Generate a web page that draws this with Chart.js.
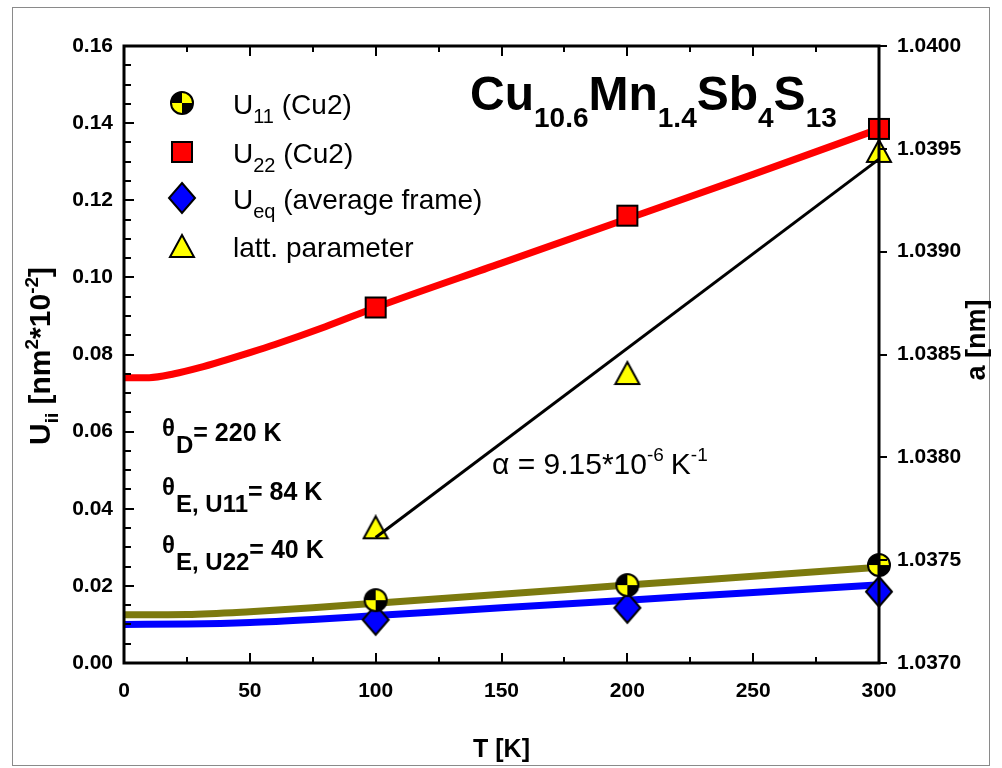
<!DOCTYPE html>
<html>
<head>
<meta charset="utf-8">
<script src="https://cdn.jsdelivr.net/npm/chart.js@4/dist/chart.umd.min.js"></script>
<style>
  html, body { margin: 0; padding: 0; background: #ffffff; }
  canvas { display: block; }
</style>
</head>
<body>
<canvas id="c" width="1002" height="768"></canvas>
<script>
const FONT = "'Liberation Sans', Arial, Helvetica, sans-serif";

// Measured temperatures and refined values
const pointT = [100, 200, 300];
const u11Points = [0.0163, 0.0202, 0.0254];
const u22Points = [0.0922, 0.1160, 0.1385];
const ueqPoints = [0.0112, 0.0143, 0.0185];
const latticePoints = [1.03766, 1.03841, 1.03949];

// Einstein / Debye model curves
const u22CurveT = [0, 10, 20, 30, 40, 50, 60, 80, 100, 150, 200, 250, 300];
const u22Curve  = [0.0740, 0.0740, 0.0750, 0.0766, 0.0785, 0.0805, 0.0826, 0.0872, 0.0922, 0.1037, 0.1152, 0.1267, 0.1385];
const lowCurveT = [0, 25, 50, 75, 100, 150, 200, 250, 300];
const u11Curve  = [0.0125, 0.0126, 0.0133, 0.0143, 0.0155, 0.0178, 0.0202, 0.0225, 0.0248];
const ueqCurve  = [0.0100, 0.0101, 0.0105, 0.0113, 0.0123, 0.0143, 0.0163, 0.0183, 0.0203];

// Linear fit of the lattice parameter
const fitT = [100, 300];
const fitA = [1.03761, 1.03945];

// Axis ticks
const xTickValues = [0, 50, 100, 150, 200, 250, 300];
const xTickLabels = ['0', '50', '100', '150', '200', '250', '300'];
const uTickValues = [0, 0.02, 0.04, 0.06, 0.08, 0.10, 0.12, 0.14, 0.16];
const uTickLabels = ['0.00', '0.02', '0.04', '0.06', '0.08', '0.10', '0.12', '0.14', '0.16'];
const aTickValues = [1.0370, 1.0375, 1.0380, 1.0385, 1.0390, 1.0395, 1.0400];
const aTickLabels = ['1.0370', '1.0375', '1.0380', '1.0385', '1.0390', '1.0395', '1.0400'];

const toXY = (xs, ys) => xs.map((x, i) => ({ x: x, y: ys[i] }));

// ---- marker sprites ----
function sprite(w, h, paint) {
  const c = document.createElement('canvas');
  c.width = w; c.height = h;
  paint(c.getContext('2d'), w, h);
  return c;
}
const quadCircle = sprite(26, 26, (g) => {
  const cx = 13, cy = 13, r = 11;
  g.fillStyle = '#000';
  g.beginPath(); g.arc(cx, cy, r, 0, Math.PI * 2); g.fill();
  g.fillStyle = '#ffff00';
  g.beginPath(); g.moveTo(cx, cy); g.arc(cx, cy, r, -Math.PI / 2, 0); g.closePath(); g.fill();
  g.beginPath(); g.moveTo(cx, cy); g.arc(cx, cy, r, Math.PI / 2, Math.PI); g.closePath(); g.fill();
  g.strokeStyle = '#000'; g.lineWidth = 2;
  g.beginPath(); g.arc(cx, cy, r, 0, Math.PI * 2); g.stroke();
});
const redSquare = sprite(24, 24, (g) => {
  g.fillStyle = '#ff0000'; g.fillRect(2, 2, 20, 20);
  g.strokeStyle = '#000'; g.lineWidth = 2; g.strokeRect(2, 2, 20, 20);
});
const blueDiamond = sprite(30, 34, (g) => {
  g.fillStyle = '#0000ff';
  g.beginPath(); g.moveTo(15, 2); g.lineTo(28, 17); g.lineTo(15, 32); g.lineTo(2, 17); g.closePath();
  g.fill();
  g.strokeStyle = '#000'; g.lineWidth = 2; g.lineJoin = 'miter'; g.stroke();
});
const yellowTriangle = sprite(28, 26, (g) => {
  g.fillStyle = '#ffff00';
  g.beginPath(); g.moveTo(14, 2); g.lineTo(26, 24); g.lineTo(2, 24); g.closePath();
  g.fill();
  g.strokeStyle = '#000'; g.lineWidth = 2; g.stroke();
});

// ---- rich text (sub/superscripts) ----
function drawRich(ctx, x, y, parts) {
  let cx = x;
  for (const p of parts) {
    ctx.font = (p.bold ? 'bold ' : '') + p.size + 'px ' + FONT;
    ctx.fillText(p.t, cx, y + (p.dy || 0));
    cx += ctx.measureText(p.t).width + (p.gap || 0);
  }
  return cx - x;
}
function richWidth(ctx, parts) {
  let w = 0;
  for (const p of parts) {
    ctx.font = (p.bold ? 'bold ' : '') + p.size + 'px ' + FONT;
    w += ctx.measureText(p.t).width + (p.gap || 0);
  }
  return w;
}

const legendRows = [
  { icon: quadCircle, y: 103, parts: [{ t: 'U', size: 28 }, { t: '11', size: 20, dy: 9 }, { t: ' (Cu2)', size: 28 }] },
  { icon: redSquare, y: 152, parts: [{ t: 'U', size: 28 }, { t: '22', size: 20, dy: 9 }, { t: ' (Cu2)', size: 28 }] },
  { icon: blueDiamond, y: 198, parts: [{ t: 'U', size: 28 }, { t: 'eq', size: 20, dy: 9 }, { t: ' (average frame)', size: 28 }] },
  { icon: yellowTriangle, y: 246, parts: [{ t: 'latt. parameter', size: 28 }] }
];

const framePlugin = {
  id: 'frame',
  afterDatasetsDraw(chart) {
    const ctx = chart.ctx;
    const { left, right, top, bottom } = chart.chartArea;
    const xs = chart.scales.x, ys = chart.scales.y, as = chart.scales.y2;
    ctx.save();
    ctx.strokeStyle = '#000';
    ctx.lineCap = 'butt';
    // tick marks
    ctx.lineWidth = 2;
    ctx.beginPath();
    for (let v = 0; v <= 300; v += 25) {
      const px = Math.round(xs.getPixelForValue(v));
      const len = v % 50 === 0 ? 10 : 6;
      ctx.moveTo(px, bottom); ctx.lineTo(px, bottom - len);
      ctx.moveTo(px, top); ctx.lineTo(px, top + len);
    }
    for (let k = 0; k <= 32; k++) {
      const py = Math.round(ys.getPixelForValue(k * 0.005));
      const len = k % 4 === 0 ? 10 : 7;
      ctx.moveTo(left, py); ctx.lineTo(left + len, py);
    }
    for (const v of aTickValues) {
      const py = Math.round(as.getPixelForValue(v));
      ctx.moveTo(right, py); ctx.lineTo(right + 8, py);
    }
    ctx.stroke();
    // axis frame
    ctx.lineWidth = 3;
    ctx.strokeRect(left, top, right - left, bottom - top);
    ctx.restore();
  },
  afterDraw(chart) {
    const ctx = chart.ctx;
    const { left, right } = chart.chartArea;
    ctx.save();
    // outer panel border
    ctx.strokeStyle = '#8a8a8a';
    ctx.lineWidth = 1;
    ctx.strokeRect(12.5, 7.5, 977, 758);

    ctx.fillStyle = '#000';
    ctx.textBaseline = 'alphabetic';
    ctx.textAlign = 'left';

    // legend
    for (const row of legendRows) {
      ctx.drawImage(row.icon, Math.round(182 - row.icon.width / 2), Math.round(row.y - row.icon.height / 2));
      drawRich(ctx, 233, row.y + 11, row.parts);
    }

    // formula
    drawRich(ctx, 470, 110, [
      { t: 'Cu', size: 48, bold: true }, { t: '10.6', size: 28, bold: true, dy: 17 },
      { t: 'Mn', size: 48, bold: true }, { t: '1.4', size: 28, bold: true, dy: 17 },
      { t: 'Sb', size: 48, bold: true }, { t: '4', size: 28, bold: true, dy: 17 },
      { t: 'S', size: 48, bold: true }, { t: '13', size: 28, bold: true, dy: 17 }
    ]);

    // characteristic temperatures
    const thetaRows = [
      { y: 441, sub: 'D', txt: '= 220 K' },
      { y: 500, sub: 'E, U11', txt: '= 84 K' },
      { y: 558, sub: 'E, U22', txt: '= 40 K' }
    ];
    for (const r of thetaRows) {
      drawRich(ctx, 162, r.y, [
        { t: '\u03B8', size: 24, bold: true, dy: -5, gap: 1 },
        { t: r.sub, size: 24, bold: true, dy: 12 },
        { t: r.txt, size: 25, bold: true }
      ]);
    }

    // thermal expansion coefficient
    drawRich(ctx, 492, 474, [
      { t: '\u03B1 = 9.15*10', size: 30 }, { t: '-6', size: 19, dy: -13, gap: 7 },
      { t: 'K', size: 30 }, { t: '-1', size: 19, dy: -13 }
    ]);

    // x axis title
    ctx.font = 'bold 25px ' + FONT;
    ctx.textAlign = 'center';
    ctx.fillText('T [K]', (left + right) / 2, 757);

    // left axis title
    const uParts = [
      { t: 'U', size: 30, bold: true }, { t: 'ii', size: 19, bold: true, dy: 8 },
      { t: ' [nm', size: 30, bold: true }, { t: '2', size: 19, bold: true, dy: -12 },
      { t: '*10', size: 30, bold: true }, { t: '-2', size: 19, bold: true, dy: -12 },
      { t: ']', size: 30, bold: true }
    ];
    ctx.textAlign = 'left';
    ctx.save();
    ctx.translate(50, 356);
    ctx.rotate(-Math.PI / 2);
    drawRich(ctx, -richWidth(ctx, uParts) / 2, 0, uParts);
    ctx.restore();

    // right axis title
    ctx.save();
    ctx.translate(985, 340);
    ctx.rotate(-Math.PI / 2);
    ctx.font = 'bold 27px ' + FONT;
    ctx.textAlign = 'center';
    ctx.fillText('a [nm]', 0, 0);
    ctx.restore();

    ctx.restore();
  }
};

const tickFont = { family: FONT, size: 21, weight: 'bold' };

new Chart(document.getElementById('c'), {
  type: 'scatter',
  data: {
    datasets: [
      { label: 'U11 (Cu2)', data: toXY(pointT, u11Points), yAxisID: 'y', showLine: false,
        pointStyle: quadCircle, pointRadius: 12, clip: false, order: 0 },
      { label: 'U22 (Cu2)', data: toXY(pointT, u22Points), yAxisID: 'y', showLine: false,
        pointStyle: redSquare, pointRadius: 12, clip: false, order: 0 },
      { label: 'Ueq (average frame)', data: toXY(pointT, ueqPoints), yAxisID: 'y', showLine: false,
        pointStyle: blueDiamond, pointRadius: 12, clip: false, order: 1 },
      { label: 'latt. parameter', data: toXY(pointT, latticePoints), yAxisID: 'y2', showLine: false,
        pointStyle: yellowTriangle, pointRadius: 12, clip: false, order: 1 },
      { label: 'fit a(T)', data: toXY(fitT, fitA), yAxisID: 'y2', showLine: true,
        borderColor: '#000', borderWidth: 3, pointRadius: 0, clip: false, order: 0 },
      { label: 'U22 model', data: toXY(u22CurveT, u22Curve), yAxisID: 'y', showLine: true,
        borderColor: '#ff0000', borderWidth: 7, pointRadius: 0, cubicInterpolationMode: 'monotone', order: 3 },
      { label: 'U11 model', data: toXY(lowCurveT, u11Curve), yAxisID: 'y', showLine: true,
        borderColor: '#7c7a0e', borderWidth: 7, pointRadius: 0, cubicInterpolationMode: 'monotone', order: 3 },
      { label: 'Ueq model', data: toXY(lowCurveT, ueqCurve), yAxisID: 'y', showLine: true,
        borderColor: '#0000ff', borderWidth: 7, pointRadius: 0, cubicInterpolationMode: 'monotone', order: 3 }
    ]
  },
  options: {
    responsive: false,
    animation: false,
    devicePixelRatio: 1,
    layout: { padding: { left: 0, right: 0, top: 46, bottom: 0 } },
    plugins: { legend: { display: false }, tooltip: { enabled: false } },
    scales: {
      x: {
        type: 'linear', position: 'bottom', min: 0, max: 300,
        afterBuildTicks: (s) => { s.ticks = xTickValues.map(v => ({ value: v })); },
        afterFit: (s) => { s.height = 105; },
        ticks: { font: tickFont, color: '#000', padding: 16, maxRotation: 0,
                 callback: (v) => xTickLabels[xTickValues.indexOf(v)] },
        grid: { display: false, drawTicks: false },
        border: { display: false }
      },
      y: {
        type: 'linear', position: 'left', min: 0, max: 0.16,
        afterBuildTicks: (s) => { s.ticks = uTickValues.map(v => ({ value: v })); },
        afterFit: (s) => { s.width = 124; },
        ticks: { font: tickFont, color: '#000', padding: 11,
                 callback: (v) => uTickLabels[uTickValues.findIndex(t => Math.abs(t - v) < 1e-9)] },
        grid: { display: false, drawTicks: false },
        border: { display: false }
      },
      y2: {
        type: 'linear', position: 'right', min: 1.0370, max: 1.0400,
        afterBuildTicks: (s) => { s.ticks = aTickValues.map(v => ({ value: v })); },
        afterFit: (s) => { s.width = 123; },
        ticks: { font: tickFont, color: '#000', padding: 18,
                 callback: (v) => aTickLabels[aTickValues.findIndex(t => Math.abs(t - v) < 1e-9)] },
        grid: { display: false, drawTicks: false },
        border: { display: false }
      }
    }
  },
  plugins: [framePlugin]
});
</script>
</body>
</html>
